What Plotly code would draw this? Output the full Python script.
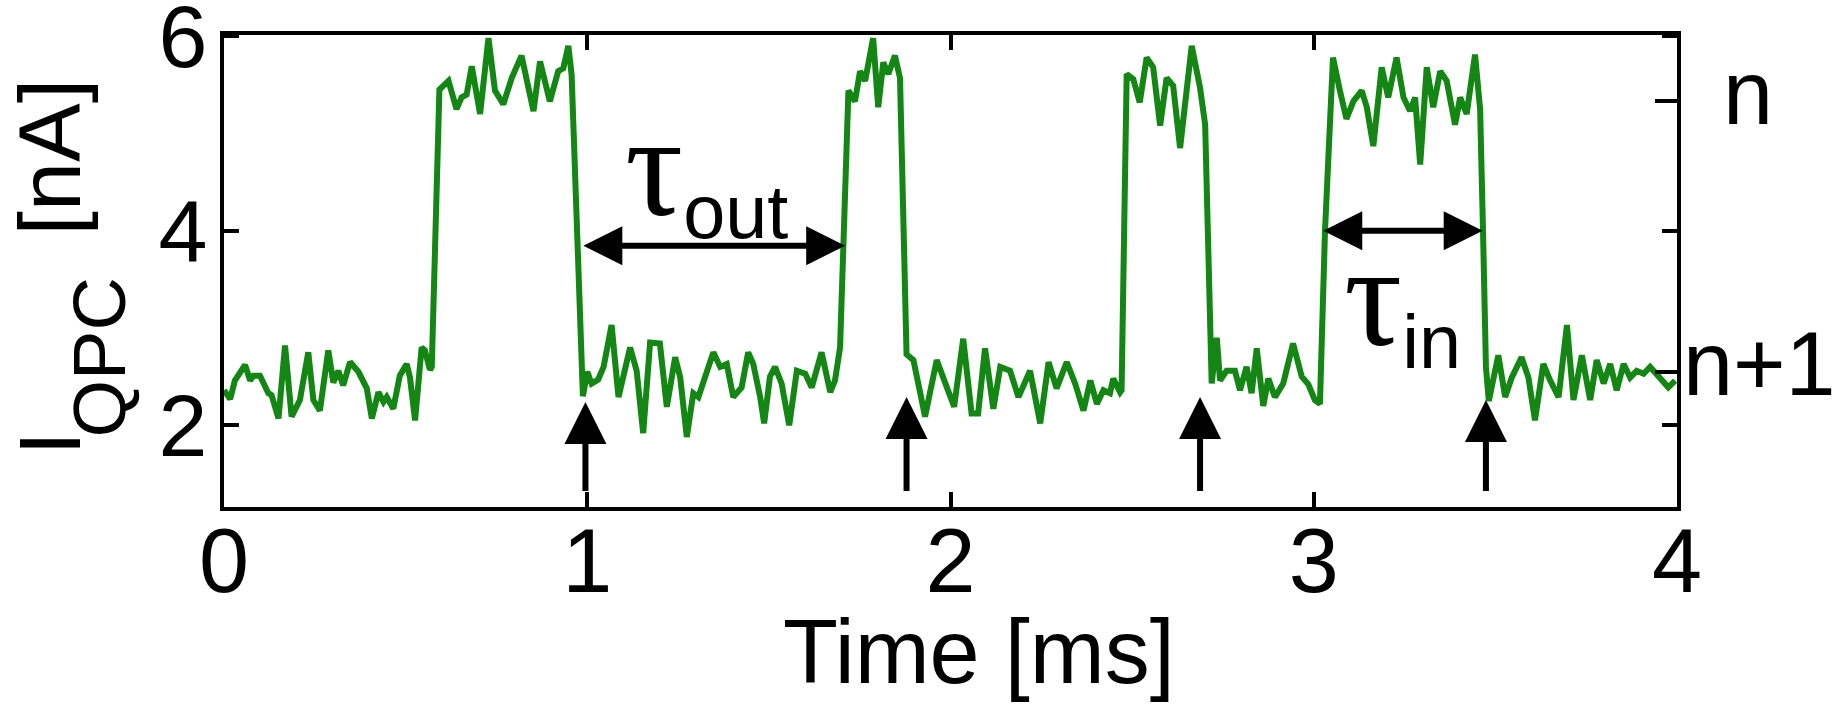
import plotly.graph_objects as go

# ---- data (time in ms, current in nA) ----
time_ms = [
    0.000, 0.017, 0.030, 0.058, 0.072, 0.081, 0.099, 0.122, 0.131, 0.150, 0.168, 0.186, 0.209, 0.232,
    0.246, 0.264, 0.287, 0.301, 0.315, 0.328, 0.347, 0.370, 0.393, 0.407, 0.425, 0.439, 0.448, 0.466,
    0.484, 0.503, 0.512, 0.526, 0.544, 0.553, 0.567, 0.572, 0.593, 0.618, 0.640, 0.654, 0.668, 0.682,
    0.705, 0.728, 0.746, 0.769, 0.792, 0.819, 0.852, 0.870, 0.897, 0.920, 0.934, 0.948, 0.957, 0.975,
    0.988, 1.000, 1.012, 1.030, 1.045, 1.067, 1.086, 1.118, 1.136, 1.154, 1.173, 1.200, 1.219, 1.242,
    1.256, 1.274, 1.292, 1.306, 1.329, 1.347, 1.366, 1.384, 1.402, 1.425, 1.443, 1.457, 1.476, 1.487,
    1.503, 1.517, 1.535, 1.556, 1.577, 1.600, 1.618, 1.645, 1.669, 1.682, 1.696, 1.705, 1.719, 1.737,
    1.751, 1.765, 1.787, 1.801, 1.815, 1.829, 1.847, 1.861, 1.870, 1.879, 1.898, 1.916, 1.930, 1.962,
    1.990, 2.010, 2.035, 2.058, 2.076, 2.095, 2.118, 2.137, 2.164, 2.187, 2.219, 2.247, 2.270, 2.292,
    2.320, 2.343, 2.366, 2.385, 2.403, 2.421, 2.439, 2.448, 2.467, 2.471, 2.485, 2.503, 2.521, 2.540,
    2.558, 2.577, 2.595, 2.613, 2.632, 2.664, 2.687, 2.701, 2.719, 2.733, 2.742, 2.760, 2.783, 2.797,
    2.815, 2.829, 2.843, 2.861, 2.875, 2.893, 2.916, 2.943, 2.967, 2.985, 3.003, 3.017, 3.031, 3.053,
    3.072, 3.090, 3.109, 3.132, 3.146, 3.164, 3.187, 3.205, 3.228, 3.247, 3.265, 3.279, 3.293, 3.311,
    3.329, 3.348, 3.366, 3.389, 3.403, 3.421, 3.444, 3.458, 3.466, 3.474, 3.482, 3.508, 3.527, 3.545,
    3.572, 3.591, 3.609, 3.632, 3.651, 3.674, 3.697, 3.715, 3.738, 3.761, 3.779, 3.798, 3.816, 3.834,
    3.853, 3.871, 3.889, 3.908, 3.926, 3.944, 3.962, 3.976, 3.995,
]
current_nA = [
    2.36, 2.27, 2.46, 2.62, 2.46, 2.51, 2.51, 2.33, 2.31, 2.07, 2.82, 2.09, 2.26, 2.75,
    2.26, 2.15, 2.77, 2.44, 2.56, 2.41, 2.65, 2.55, 2.38, 2.07, 2.34, 2.24, 2.29, 2.17,
    2.51, 2.63, 2.49, 2.05, 2.80, 2.77, 2.57, 2.60, 5.45, 5.54, 5.25, 5.37, 5.40, 5.69,
    5.20, 5.98, 5.44, 5.30, 5.57, 5.80, 5.23, 5.74, 5.33, 5.64, 5.67, 5.90, 5.60, 3.90,
    2.30, 2.55, 2.43, 2.47, 2.60, 3.03, 2.29, 2.80, 2.56, 1.92, 2.85, 2.84, 2.19, 2.70,
    2.49, 1.88, 2.33, 2.29, 2.53, 2.75, 2.60, 2.63, 2.29, 2.39, 2.75, 2.63, 2.29, 2.02,
    2.50, 2.60, 2.43, 2.00, 2.56, 2.53, 2.39, 2.75, 2.34, 2.46, 2.80, 3.83, 5.44, 5.33,
    5.64, 5.54, 5.98, 5.27, 5.73, 5.61, 5.80, 5.57, 4.34, 2.73, 2.67, 2.36, 2.09, 2.67,
    2.39, 2.19, 2.89, 2.12, 2.12, 2.79, 2.17, 2.60, 2.56, 2.29, 2.56, 2.02, 2.65, 2.38,
    2.65, 2.43, 2.15, 2.46, 2.22, 2.36, 2.33, 2.48, 2.34, 2.36, 5.61, 5.56, 5.32, 5.78,
    5.68, 5.08, 5.57, 5.49, 4.85, 5.90, 5.47, 5.09, 2.43, 2.90, 2.46, 2.56, 2.56, 2.36,
    2.60, 2.33, 2.79, 2.20, 2.48, 2.29, 2.43, 2.84, 2.50, 2.42, 2.26, 2.22, 4.00, 5.78,
    5.44, 5.15, 5.33, 5.44, 5.27, 4.87, 5.68, 5.37, 5.78, 5.37, 5.23, 5.37, 4.68, 5.68,
    5.27, 5.64, 5.54, 5.09, 5.37, 5.20, 5.81, 5.25, 4.00, 2.60, 2.25, 2.72, 2.29, 2.49,
    2.70, 2.49, 2.05, 2.63, 2.46, 2.29, 3.03, 2.26, 2.72, 2.26, 2.67, 2.43, 2.63, 2.36,
    2.63, 2.49, 2.56, 2.53, 2.60, 2.53, 2.46, 2.39, 2.46,
]

x_ticks = [0, 1, 2, 3, 4]
y_ticks = [2, 4, 6]
level_values = [5.33, 2.55]          # right-hand charge-state ticks
level_labels = ["n", "n+1"]

# tunnelling-event markers (upward arrows)
event_times = [0.995, 1.879, 2.687, 3.474]
event_tip = [2.24, 2.29, 2.29, 2.26]
event_tail = 1.31

# dwell-time double arrows: (start, end, level)
tau_out_span = (0.985, 1.710, 3.846)
tau_in_span = (3.022, 3.465, 4.00)

X_RANGE = [0, 4]
Y_RANGE = [1.16, 6.012]

FONT = "Liberation Sans, Arial, sans-serif"
SERIF = "'Liberation Serif', 'Times New Roman', serif"
GREEN = "#138613"

fig = go.Figure()
fig.add_trace(go.Scatter(x=time_ms, y=current_nA, mode="lines",
                         line=dict(color=GREEN, width=6), showlegend=False, hoverinfo="skip"))
fig.add_trace(go.Scatter(x=[], y=[], yaxis="y2", showlegend=False, hoverinfo="skip"))

annotations = []
for tx, tip in zip(event_times, event_tip):
    annotations.append(dict(x=tx, y=tip, ax=tx, ay=event_tail, xref="x", yref="y",
                            axref="x", ayref="y", text="", showarrow=True,
                            arrowhead=2, arrowsize=1.4, arrowwidth=6, arrowcolor="black",
                            standoff=0))
for (a, b, lvl) in (tau_out_span, tau_in_span):
    annotations.append(dict(x=b, y=lvl, ax=a, ay=lvl, xref="x", yref="y",
                            axref="x", ayref="y", text="", showarrow=True,
                            arrowhead=2, startarrowhead=2, arrowside="end+start",
                            arrowsize=1.3, startarrowsize=1.3, arrowwidth=6,
                            arrowcolor="black", standoff=0, startstandoff=0))

tau_font = dict(family=FONT, size=108, color="black")
tau_html = "<span style=\"font-family:" + SERIF + ";font-size:145px\">τ</span><sub>{}</sub>"
annotations.append(dict(x=1.327, y=4.62, xref="x", yref="y", showarrow=False,
                        text=tau_html.format("out"), font=tau_font,
                        xanchor="center", yanchor="middle"))
annotations.append(dict(x=3.243, y=3.29, xref="x", yref="y", showarrow=False,
                        text=tau_html.format("in"), font=tau_font,
                        xanchor="center", yanchor="middle"))

# right-hand level labels
annotations.append(dict(x=1.0489, y=5.42, xref="paper", yref="y", showarrow=False,
                        text=level_labels[0], font=dict(family=FONT, size=90, color="black"),
                        xanchor="center", yanchor="middle"))
annotations.append(dict(x=1.0571, y=2.63, xref="paper", yref="y", showarrow=False,
                        text=level_labels[1], font=dict(family=FONT, size=90, color="black"),
                        xanchor="center", yanchor="middle"))

# axis titles
annotations.append(dict(x=0.5196, y=-0.307, xref="paper", yref="paper", showarrow=False,
                        text="Time [ms]", font=dict(family=FONT, size=90, color="black"),
                        xanchor="center", yanchor="middle"))
# y title "I_QPC [nA]" built from three rotated pieces (large, deeply lowered subscript)
annotations.append(dict(x=-0.1198, y=0.1345, xref="paper", yref="paper", showarrow=False,
                        text="I", textangle=-90, font=dict(family=FONT, size=88, color="black"),
                        xanchor="center", yanchor="middle"))
annotations.append(dict(x=-0.085, y=0.3178, xref="paper", yref="paper", showarrow=False,
                        text="QPC", textangle=-90, font=dict(family=FONT, size=74, color="black"),
                        xanchor="center", yanchor="middle"))
annotations.append(dict(x=-0.1198, y=0.7426, xref="paper", yref="paper", showarrow=False,
                        text="[nA]", textangle=-90, font=dict(family=FONT, size=88, color="black"),
                        xanchor="center", yanchor="middle"))

fig.update_layout(
    width=1845, height=706,
    margin=dict(l=224, r=168, t=35, b=199, pad=0, autoexpand=False),
    paper_bgcolor="white", plot_bgcolor="white",
    font=dict(family=FONT, color="black"),
    xaxis=dict(range=X_RANGE, tickvals=x_ticks, ticktext=[str(v) for v in x_ticks],
               ticks="inside", ticklen=15, tickwidth=4, tickcolor="black",
               showline=True, linewidth=4, linecolor="black", mirror="ticks",
               showgrid=False, zeroline=False, tickfont=dict(size=90, family=FONT),
               ticklabelstandoff=-27, ticklabeloverflow="allow", automargin=False),
    yaxis=dict(range=Y_RANGE, tickvals=y_ticks, ticktext=[str(v) for v in y_ticks],
               ticks="inside", ticklen=15, tickwidth=4, tickcolor="black",
               showline=True, linewidth=4, linecolor="black", mirror="ticks",
               showgrid=False, zeroline=False, tickfont=dict(size=88, family=FONT),
               ticklabelstandoff=-5, ticklabeloverflow="allow", automargin=False),
    yaxis2=dict(range=Y_RANGE, overlaying="y", side="right", tickvals=level_values,
                ticktext=["", ""], ticks="inside", ticklen=22, tickwidth=4, tickcolor="black",
                showline=False, showgrid=False, zeroline=False, automargin=False),
    annotations=annotations,
    showlegend=False,
)

fig.write_html("out.html")
